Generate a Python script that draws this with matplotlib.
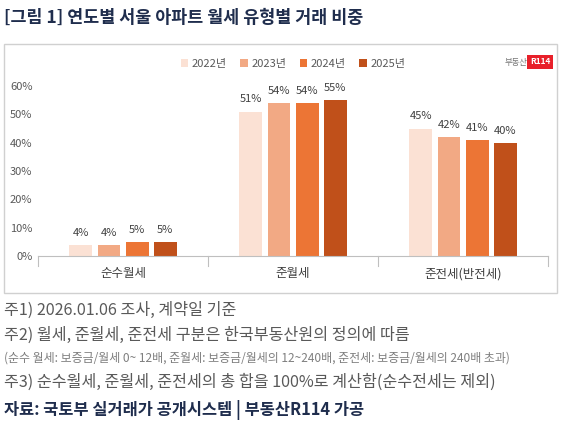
import matplotlib
matplotlib.use("Agg")
import matplotlib.pyplot as plt
from matplotlib.patches import Rectangle
import numpy as np

plt.rcParams['font.family'] = ['Noto Sans CJK KR', 'DejaVu Sans']

categories = ["순수월세", "준월세", "준전세(반전세)"]
years = ["2022년", "2023년", "2024년", "2025년"]
values = [[4, 51, 45], [4, 54, 42], [5, 54, 41], [5, 55, 40]]
colors = ["#fbe1d4", "#f2a984", "#ec7535", "#c0501a"]
yticks = [0, 10, 20, 30, 40, 50, 60]

W, H = 564, 426
fig = plt.figure(figsize=(W/100, H/100), dpi=100)
fig.patches.append(Rectangle((4/W, 1-293/H), 553/W, 249/H, transform=fig.transFigure,
                             fill=False, edgecolor="#d0d0d0", lw=1))

ax = fig.add_axes([38/W, 1-256/H, 510/W, 170/H])
x = np.arange(len(categories))
bw = 0.135
step = 0.165
for i, (yr, vals) in enumerate(zip(years, values)):
    pos = x + (i-1.5)*step
    ax.bar(pos, vals, bw, color=colors[i], label=yr)
    for p, v in zip(pos, vals):
        ax.text(p, v+2.5, f"{v}%", ha="center", va="bottom", fontsize=8, color="#404040")
ax.set_xlim(-0.5, 2.5)
ax.set_ylim(0, 60)
ax.set_yticks(yticks)
ax.set_yticklabels([f"{t}%" for t in yticks], fontsize=8, color="#595959")
ax.set_xticks(x)
ax.set_xticklabels(categories, fontsize=9, color="#404040")
ax.tick_params(length=0, pad=8)
ax.tick_params(axis='y', pad=4)
for s in ["top", "right", "left"]:
    ax.spines[s].set_visible(False)
ax.spines["bottom"].set_color("#bfbfbf")
for b in [-0.5, 0.5, 1.5, 2.5]:
    ax.plot([b, b], [0, -3.5], color="#bfbfbf", lw=0.8, clip_on=False)
ax.legend(loc="upper center", bbox_to_anchor=(0.5, 1.22), ncol=4, frameon=False,
          fontsize=8, handlelength=0.7, handleheight=0.7, columnspacing=1.2,
          handletextpad=0.3, labelcolor="#595959")

fig.text(527/W, 1-62/H, "부동산", fontsize=6, color="#777777", ha="right", va="center")
fig.text(540/W, 1-62/H, "R114", fontsize=6, color="white", ha="center", va="center",
         fontweight="bold", bbox=dict(facecolor="#e8202a", edgecolor="none", pad=2))

fig.text(4/W, 1-18/H, "[그림 1] 연도별 서울 아파트 월세 유형별 거래 비중", fontsize=12.5,
         fontweight="bold", color="#1f2d4d", va="center")
fig.text(4/W, 1-310/H, "주1) 2026.01.06 조사, 계약일 기준", fontsize=11.6, color="#595959", va="center")
fig.text(4/W, 1-335/H, "주2) 월세, 준월세, 준전세 구분은 한국부동산원의 정의에 따름", fontsize=11.6, color="#595959", va="center")
fig.text(4/W, 1-358/H, "(순수 월세: 보증금/월세 0~ 12배, 준월세: 보증금/월세의 12~240배, 준전세: 보증금/월세의 240배 초과)",
         fontsize=8.6, color="#7f7f7f", style="italic", va="center")
fig.text(4/W, 1-382/H, "주3) 순수월세, 준월세, 준전세의 총 합을 100%로 계산함(순수전세는 제외)", fontsize=11.6, color="#595959", va="center")
fig.text(4/W, 1-410/H, "자료: 국토부 실거래가 공개시스템 | 부동산R114 가공", fontsize=11.8, fontweight="bold",
         color="#1f2d4d", va="center")

fig.savefig("out.png", dpi=100)
